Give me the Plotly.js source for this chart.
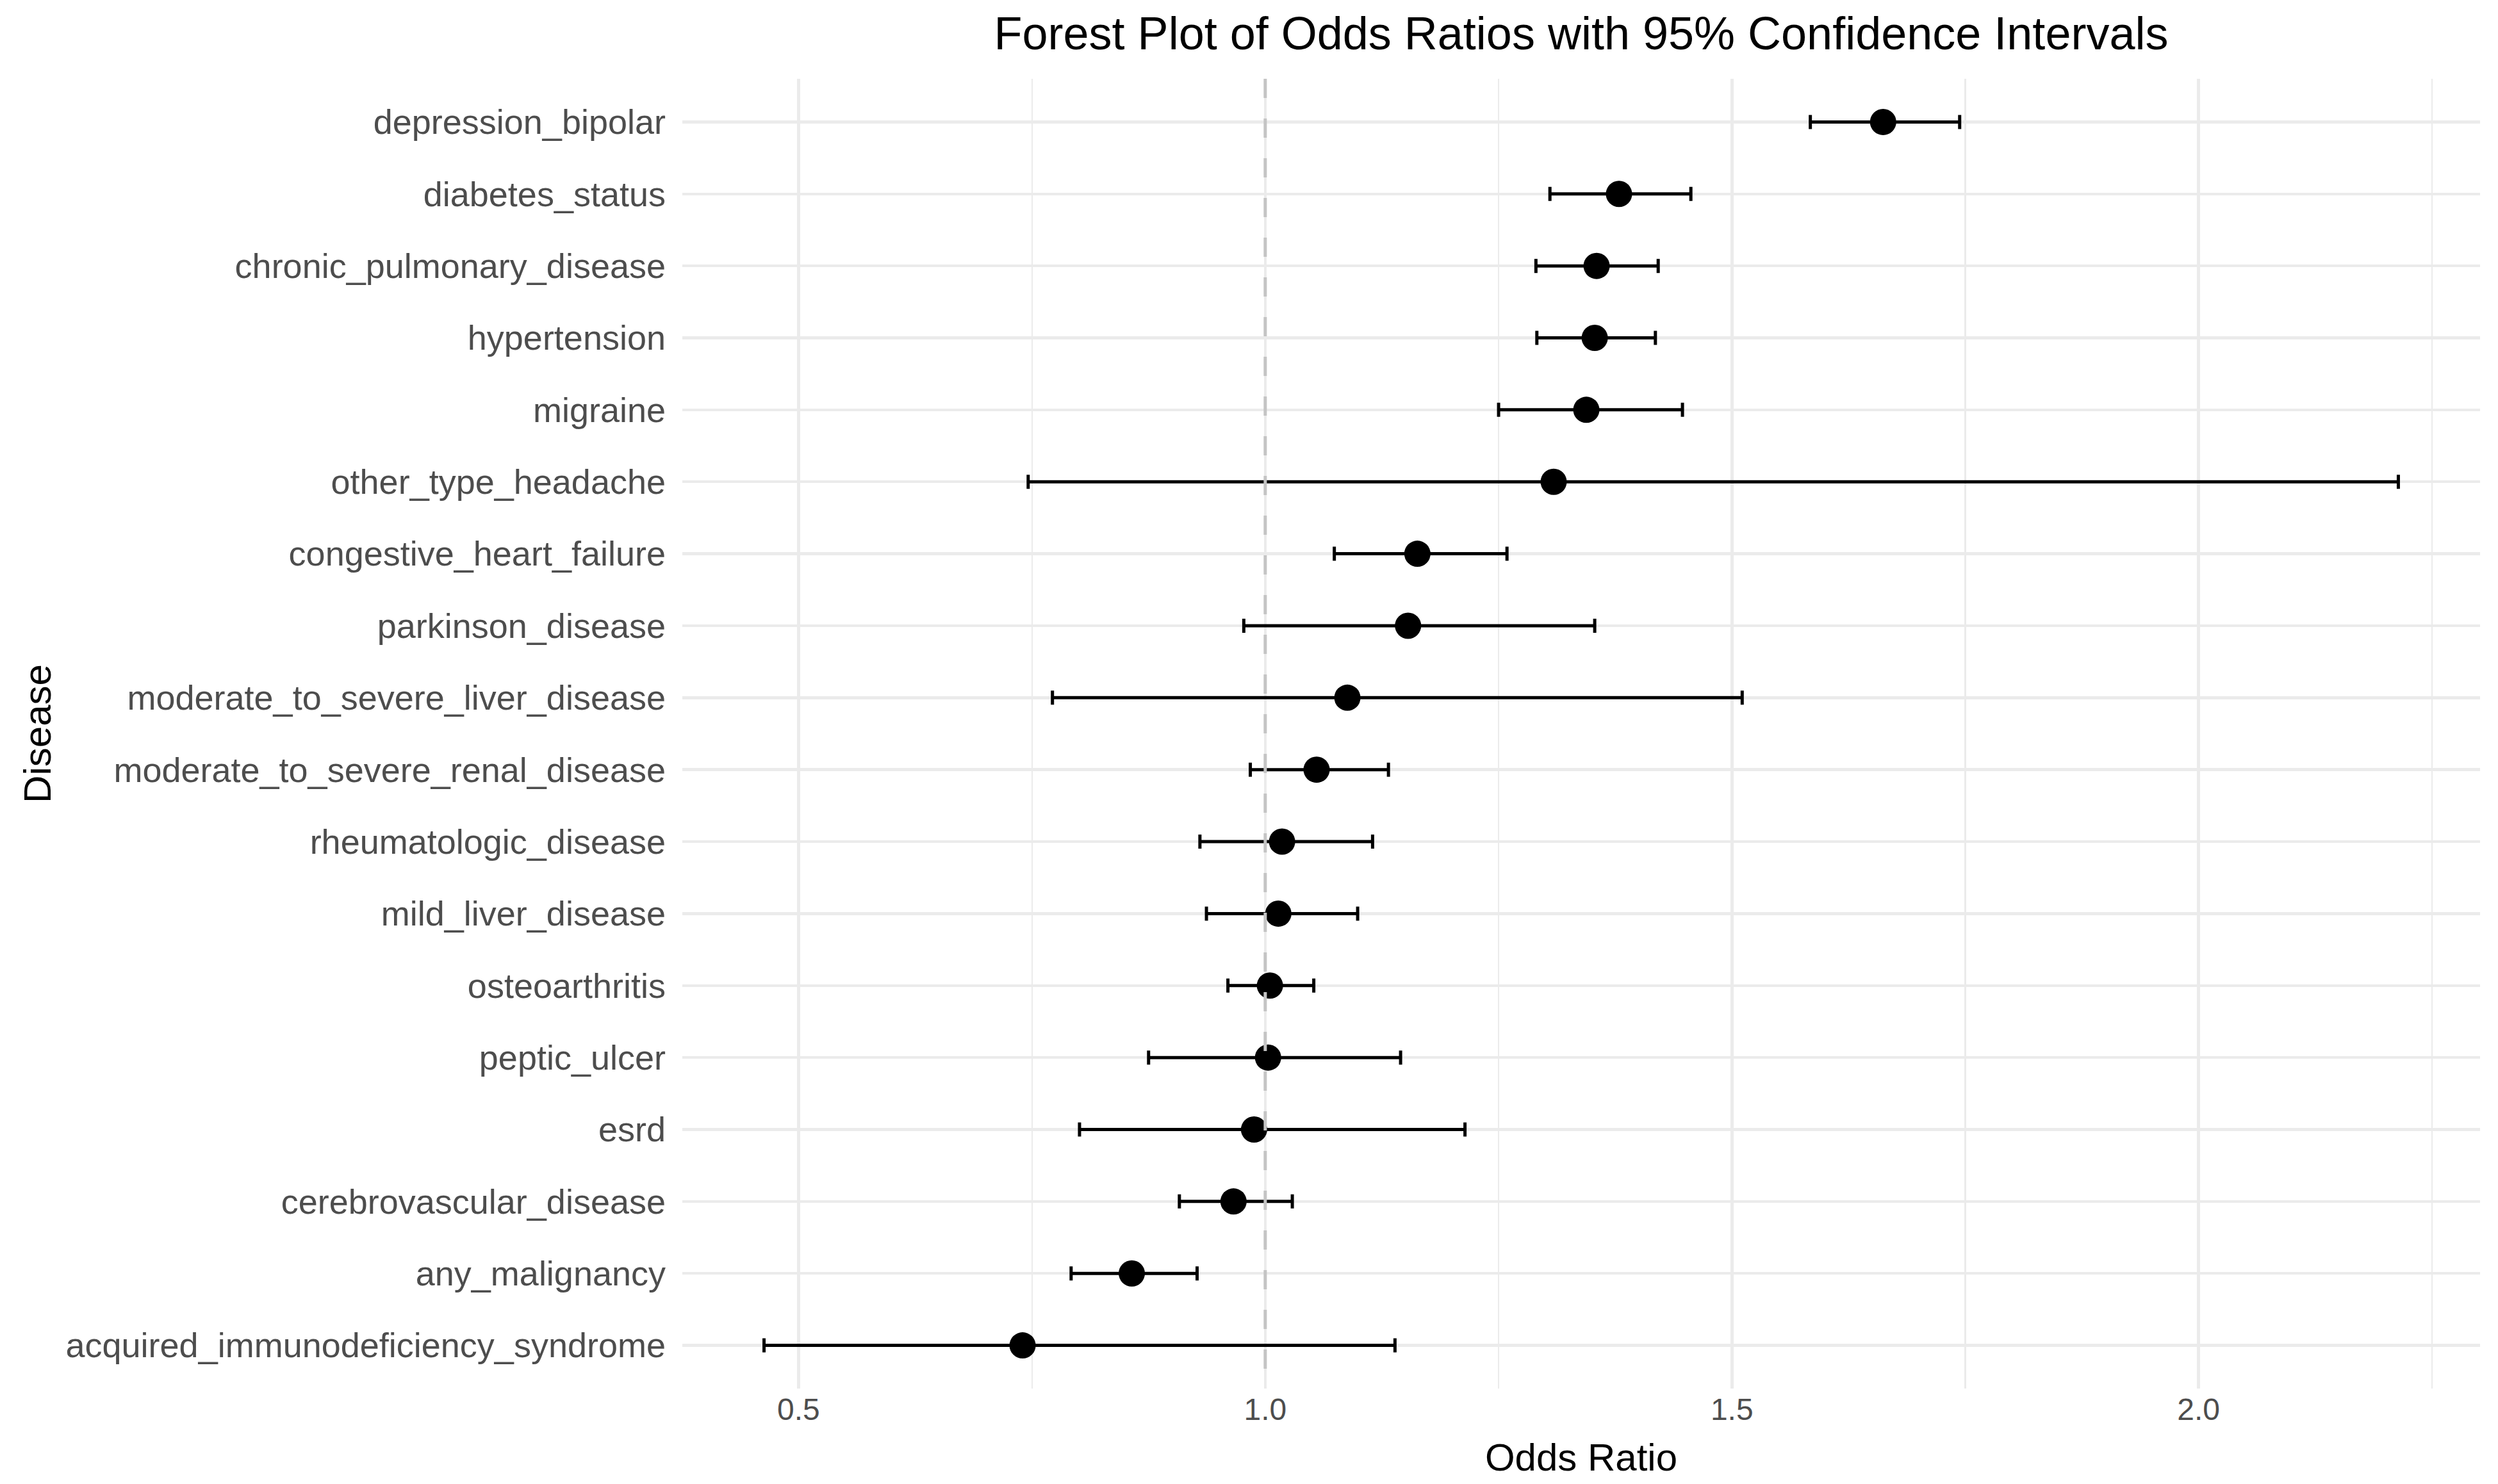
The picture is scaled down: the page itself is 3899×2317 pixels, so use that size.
<!DOCTYPE html>
<html>
<head>
<meta charset="utf-8">
<script src="https://cdn.plot.ly/plotly-3.0.1.min.js"></script>
<style>html,body{margin:0;padding:0;background:#fff;}#chart{width:3899px;height:2317px;}</style>
</head>
<body>
<div id="chart"></div>
<script>
// Diseases listed top to bottom as in the chart
const diseases = [
  "depression_bipolar",
  "diabetes_status",
  "chronic_pulmonary_disease",
  "hypertension",
  "migraine",
  "other_type_headache",
  "congestive_heart_failure",
  "parkinson_disease",
  "moderate_to_severe_liver_disease",
  "moderate_to_severe_renal_disease",
  "rheumatologic_disease",
  "mild_liver_disease",
  "osteoarthritis",
  "peptic_ulcer",
  "esrd",
  "cerebrovascular_disease",
  "any_malignancy",
  "acquired_immunodeficiency_syndrome"
];
const oddsRatio = [1.662, 1.379, 1.355, 1.353, 1.344, 1.309, 1.163, 1.153, 1.088, 1.055, 1.018, 1.014, 1.005, 1.003, 0.988, 0.966, 0.857, 0.740];
const ciLower   = [1.584, 1.305, 1.290, 1.291, 1.250, 0.746, 1.074, 0.977, 0.772, 0.984, 0.930, 0.937, 0.960, 0.875, 0.801, 0.908, 0.792, 0.463];
const ciUpper   = [1.744, 1.456, 1.421, 1.418, 1.447, 2.214, 1.259, 1.353, 1.511, 1.132, 1.115, 1.099, 1.052, 1.145, 1.214, 1.029, 0.927, 1.139];
const referenceLine = 1.0;

const plus = oddsRatio.map((v, i) => ciUpper[i] - v);
const minus = oddsRatio.map((v, i) => v - ciLower[i]);

const font = "Liberation Sans, Arimo, Arial, sans-serif";
const gridColor = "#EBEBEB";

const trace = {
  type: "scatter",
  mode: "markers",
  x: oddsRatio,
  y: diseases,
  marker: {color: "#000000", size: 41},
  error_x: {
    type: "data",
    symmetric: false,
    array: plus,
    arrayminus: minus,
    color: "#000000",
    thickness: 5,
    width: 11
  },
  hoverinfo: "x+y",
  showlegend: false
};

// x-range from the data with 5% padding on each side
const lo = Math.min(...ciLower), hi = Math.max(...ciUpper);
const pad = 0.05 * (hi - lo);

const layout = {
  width: 3899,
  height: 2317,
  margin: {l: 1065, r: 28, t: 123, b: 149, pad: 0},
  paper_bgcolor: "#FFFFFF",
  plot_bgcolor: "#FFFFFF",
  font: {family: font, color: "#4D4D4D"},
  title: {
    text: "Forest Plot of Odds Ratios with 95% Confidence Intervals",
    font: {family: font, size: 72, color: "#000000"},
    x: 0.5, xref: "paper", xanchor: "center",
    y: 1 - 52 / 2317, yref: "container", yanchor: "middle"
  },
  xaxis: {
    range: [lo - pad, hi + pad],
    tickmode: "linear", tick0: 0.5, dtick: 0.5, tickformat: ".1f",
    showgrid: true, gridcolor: gridColor, gridwidth: 4.5,
    minor: {tick0: 0.25, dtick: 0.25, showgrid: true, gridcolor: gridColor, gridwidth: 2.3},
    zeroline: false, showline: false, ticks: "",
    tickfont: {family: font, size: 48, color: "#4D4D4D"},
    title: {text: "Odds Ratio", font: {family: font, size: 60, color: "#000000"}, standoff: 27}
  },
  yaxis: {
    type: "category",
    categoryorder: "array",
    categoryarray: diseases.slice().reverse(),
    range: [-0.6, diseases.length - 0.4],
    showgrid: true, gridcolor: gridColor, gridwidth: 4.5,
    zeroline: false, showline: false, ticks: "",
    ticklabelstandoff: 25,
    tickfont: {family: font, size: 54, color: "#4D4D4D"},
    title: {text: "Disease", font: {family: font, size: 60, color: "#000000"}, standoff: 3}
  },
  shapes: [{
    type: "line", layer: "above",
    xref: "x", x0: referenceLine, x1: referenceLine,
    yref: "paper", y0: 1, y1: 0,
    line: {color: "#C4C4C4", width: 5, dash: "30px,32px"}
  }]
};

Plotly.newPlot("chart", [trace], layout, {staticPlot: true, displayModeBar: false});
</script>
</body>
</html>
